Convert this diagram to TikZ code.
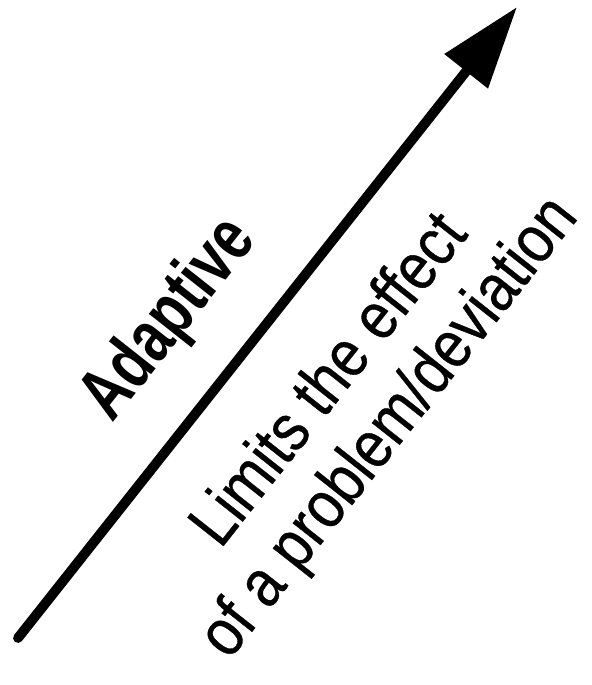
\documentclass[tikz,border=0pt]{standalone}
\usepackage{fontspec}
\usetikzlibrary{arrows.meta}
\newfontfamily\condfont[FakeStretch=0.86,FakeBold=0.5]{Liberation Sans}
\newfontfamily\condbold[FakeStretch=0.75]{Liberation Sans Bold}
\begin{document}
\begin{tikzpicture}[
    label/.style={rotate=51.7,inner sep=0pt},
    arrowline/.style={line width=5.6pt,line cap=round,-{Triangle[length=1.64cm,width=1.06cm]}}]
\useasboundingbox (0,0) rectangle (11.82,13.70);
\coordinate (s) at (0.36,0.94);
\coordinate (t) at (10.34,13.56);
\draw[arrowline] (s) -- (t);
\node[label,font=\condbold\fontsize{42}{50}\selectfont] (adapt) at (3.40,7.30) {Adaptive};
\node[label,align=center,font=\condfont\fontsize{38}{43}\selectfont] (limits) at (7.22,5.60) {Limits the effect\\of a problem/deviation};
\end{tikzpicture}
\end{document}
